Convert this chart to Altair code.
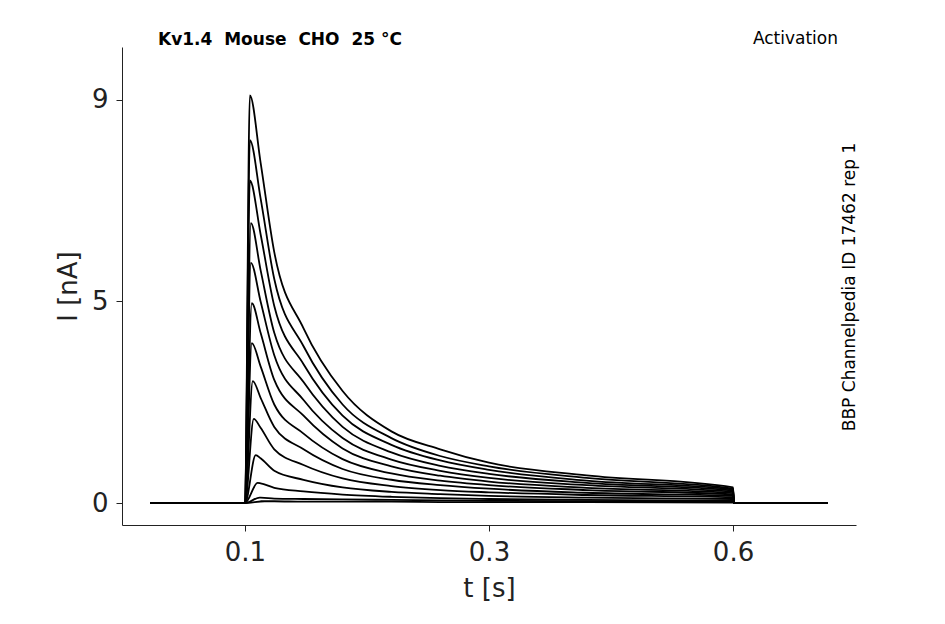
import altair as alt
import pandas as pd

# sample times (s) after the peak
decay_t = [0.116, 0.13, 0.16, 0.2, 0.25, 0.3, 0.35, 0.45, 0.6]
peak_i = [9.1, 8.1, 7.2, 6.25, 5.36, 4.46, 3.57, 2.72, 1.88, 1.07, 0.45, 0.12, 0.04]
peak_t = [0.105, 0.105, 0.105, 0.106, 0.106, 0.107, 0.107, 0.108, 0.109, 0.111, 0.113, 0.115, 0.12]
decay_i = [
    [7.6, 5.6, 3.9, 2.5, 1.6, 1.2, 0.9, 0.62, 0.35],
    [6.8, 5.0, 3.5, 2.2, 1.45, 1.05, 0.82, 0.56, 0.32],
    [6.0, 4.4, 3.1, 1.95, 1.3, 0.95, 0.74, 0.5, 0.3],
    [5.2, 3.8, 2.7, 1.7, 1.13, 0.83, 0.65, 0.45, 0.28],
    [4.5, 3.3, 2.3, 1.45, 0.97, 0.72, 0.56, 0.4, 0.25],
    [3.8, 2.75, 1.95, 1.22, 0.82, 0.61, 0.48, 0.34, 0.22],
    [3.05, 2.2, 1.55, 0.98, 0.66, 0.5, 0.4, 0.29, 0.19],
    [2.35, 1.7, 1.2, 0.76, 0.52, 0.4, 0.32, 0.23, 0.16],
    [1.68, 1.2, 0.85, 0.55, 0.38, 0.29, 0.24, 0.18, 0.13],
    [1.0, 0.72, 0.52, 0.35, 0.25, 0.2, 0.16, 0.12, 0.09],
    [0.44, 0.34, 0.26, 0.19, 0.14, 0.11, 0.09, 0.07, 0.05],
    [0.12, 0.1, 0.09, 0.08, 0.07, 0.06, 0.05, 0.04, 0.03],
    [0.04, 0.04, 0.03, 0.03, 0.03, 0.02, 0.02, 0.02, 0.01],
]
t_start, t_on, t_off, t_end = 0.003, 0.1, 0.6, 0.697

rows = []
for k in range(len(peak_i)):
    pts = [(t_start, 0.0), (t_on, 0.0), (peak_t[k], peak_i[k])]
    pts += list(zip(decay_t, decay_i[k]))
    pts += [(t_off + 0.001, 0.0), (t_end, 0.0)]
    for o, (t, i) in enumerate(pts):
        rows.append({"trace": k, "order": o, "t": t, "I": i})
df = pd.DataFrame(rows)

F = "DejaVu Sans"
lines = alt.Chart(df).mark_line(color="black", strokeWidth=1.8, interpolate="monotone").encode(
    x=alt.X("t:Q", scale=alt.Scale(domain=[-0.026, 0.726], nice=False, zero=False),
            axis=alt.Axis(values=[0.1, 0.35, 0.6], format="~g", title="t [s]", grid=False)),
    y=alt.Y("I:Q", scale=alt.Scale(domain=[-0.49, 10.18], nice=False, zero=False),
            axis=alt.Axis(values=[0, 4.5, 9], format="~g", title="I [nA]", grid=False)),
    detail="trace:N", order="order:Q",
)

title_l = alt.Chart().mark_text(font=F, fontSize=17, fontWeight="bold", align="left").encode(
    x=alt.value(36), y=alt.value(-7), text=alt.value("Kv1.4\u00a0\u00a0Mouse\u00a0\u00a0CHO\u00a0\u00a025 °C"))
title_r = alt.Chart().mark_text(font=F, fontSize=17, align="right").encode(
    x=alt.value(716), y=alt.value(-8), text=alt.value("Activation"))
side = alt.Chart().mark_text(font=F, fontSize=17, angle=270, align="center").encode(
    x=alt.value(728), y=alt.value(240), text=alt.value("BBP Channelpedia ID 17462 rep 1"))

chart = (lines + title_l + title_r + side).properties(
    width=734, height=478, autosize="none",
    padding={"left": 114, "top": 39, "right": 80, "bottom": 100},
).configure_view(stroke=None).configure_axis(
    labelFont=F, titleFont=F, labelFontSize=26, titleFontSize=26, labelColor="#222",
    titleColor="#222", titleFontWeight="normal", domainColor="#222", tickColor="#222",
    tickSize=6, labelPadding=8, titlePadding=10,
)
chart.save("out.html", embed_options={"renderer": "svg", "actions": False})
